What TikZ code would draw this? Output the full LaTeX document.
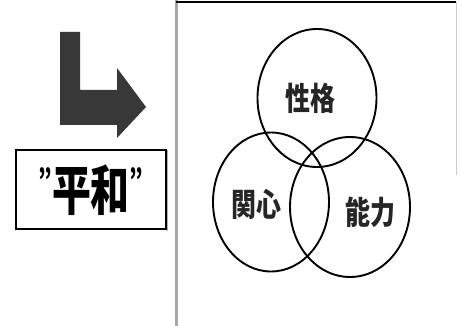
\documentclass[tikz,border=0pt]{standalone}
\usepackage{fontspec}
\newfontfamily\cjk{Noto Sans CJK JP}
\usetikzlibrary{shapes.geometric}
\begin{document}
\begin{tikzpicture}[x=1pt,y=-1pt,
  ring/.style={draw=black, line width=1.9pt, ellipse, inner sep=0pt},
  lbl/.style={font=\cjk\bfseries\fontsize{32}{32}\selectfont, xscale=0.78, inner sep=0pt, text=black!85}]
\useasboundingbox (0,0) rectangle (461,326);
\fill[white] (0,0) rectangle (461,326);
% panel borders
\draw[gray!70, line width=3pt] (176,0) -- (176,326);
\draw[black, line width=2pt] (176,2) -- (456,2);
\draw[gray!40, line width=1pt] (456,2) -- (456,175);
% arrow
\fill[black!78] (60,32) -- (80,32) -- (80,90) -- (117,90) -- (117,68) -- (146,107)
  -- (117,138) -- (117,125) -- (60,125) -- cycle;
% box
\node[draw=black, line width=2pt, minimum width=150pt, minimum height=79pt, inner sep=0pt]
  (box) at (91,189.5) {};
\draw[gray!60, line width=1.5pt] (167.5,150) -- (167.5,231);
\node[font=\cjk\bfseries\fontsize{54}{54}\selectfont, xscale=0.72, inner sep=0pt] (heiwa) at (91,190)
  {\raisebox{0.35em}{\fontsize{30}{30}\selectfont ”}平和\raisebox{0.35em}{\fontsize{30}{30}\selectfont ”}};
% circles
\node[ring, minimum width=119pt, minimum height=138pt] (top) at (317,98) {};
\node[ring, minimum width=116pt, minimum height=139pt] (left) at (271,202) {};
\node[ring, minimum width=120pt, minimum height=140pt] (right) at (350,207) {};
\node[lbl] (seikaku) at (310,98) {性格};
\node[lbl] (kanshin) at (256,204) {関心};
\node[lbl] (nouryoku) at (370,212) {能力};
\end{tikzpicture}
\end{document}
